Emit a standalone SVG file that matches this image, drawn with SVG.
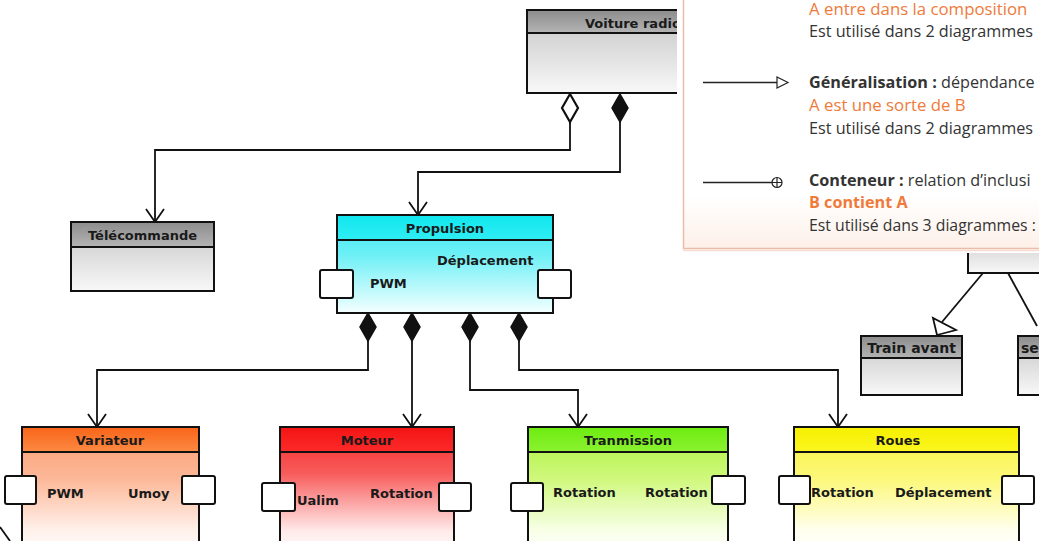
<svg xmlns="http://www.w3.org/2000/svg" xmlns:xlink="http://www.w3.org/1999/xlink" width="1039" height="541" viewBox="0 0 1039 541">
<style>
.box{stroke:#111;stroke-width:2}
.t{font-family:"DejaVu Sans",Verdana,sans-serif;font-size:13px;font-weight:bold;fill:#1a1a1a}
.port{fill:#fff;stroke:#111;stroke-width:2}
.conn{fill:none;stroke:#111;stroke-width:1.8}
.lg{font-family:"Open Sans","Liberation Sans",sans-serif;font-size:16.2px;fill:#333}
.or{fill:#ef7a3a}
.b{font-weight:bold}
</style>
<defs>
<linearGradient id="gH" x1="0" y1="0" x2="0" y2="1"><stop offset="0" stop-color="#8c8c8c"/><stop offset="1" stop-color="#b4b4b4"/></linearGradient>
<linearGradient id="gB" x1="0" y1="0" x2="0" y2="1"><stop offset="0" stop-color="#c4c4c4"/><stop offset="1" stop-color="#f8f8f8"/></linearGradient>
<linearGradient id="cH" x1="0" y1="0" x2="0" y2="1"><stop offset="0" stop-color="#10e6ee"/><stop offset="1" stop-color="#30eef4"/></linearGradient>
<linearGradient id="cB" x1="0" y1="0" x2="0" y2="1"><stop offset="0" stop-color="#3ae8f2"/><stop offset="0.4" stop-color="#6cf0f6"/><stop offset="1" stop-color="#f4ffff"/></linearGradient>
<linearGradient id="oH" x1="0" y1="0" x2="0" y2="1"><stop offset="0" stop-color="#f86418"/><stop offset="1" stop-color="#fc8a44"/></linearGradient>
<linearGradient id="oB" x1="0" y1="0" x2="0" y2="1"><stop offset="0" stop-color="#fb9c70"/><stop offset="0.4" stop-color="#fcb898"/><stop offset="0.8" stop-color="#fff2ec"/><stop offset="1" stop-color="#ffffff"/></linearGradient>
<linearGradient id="rH" x1="0" y1="0" x2="0" y2="1"><stop offset="0" stop-color="#f41414"/><stop offset="1" stop-color="#fc2a2a"/></linearGradient>
<linearGradient id="rB" x1="0" y1="0" x2="0" y2="1"><stop offset="0" stop-color="#f52828"/><stop offset="0.35" stop-color="#f85a5a"/><stop offset="0.8" stop-color="#ffeaea"/><stop offset="1" stop-color="#ffffff"/></linearGradient>
<linearGradient id="vH" x1="0" y1="0" x2="0" y2="1"><stop offset="0" stop-color="#6cec10"/><stop offset="1" stop-color="#8cf230"/></linearGradient>
<linearGradient id="vB" x1="0" y1="0" x2="0" y2="1"><stop offset="0" stop-color="#a8f23c"/><stop offset="0.4" stop-color="#d0f87c"/><stop offset="0.8" stop-color="#f8ffe8"/><stop offset="1" stop-color="#ffffff"/></linearGradient>
<linearGradient id="yH" x1="0" y1="0" x2="0" y2="1"><stop offset="0" stop-color="#f6f000"/><stop offset="1" stop-color="#fbf620"/></linearGradient>
<linearGradient id="yB" x1="0" y1="0" x2="0" y2="1"><stop offset="0" stop-color="#faf23c"/><stop offset="0.4" stop-color="#fcf87a"/><stop offset="0.8" stop-color="#fffff0"/><stop offset="1" stop-color="#ffffff"/></linearGradient>
<linearGradient id="lgB" x1="0" y1="0" x2="0" y2="1"><stop offset="0.8" stop-color="#ffffff"/><stop offset="1" stop-color="#fdf0e8"/></linearGradient>
<path id="vArr" d="M-9,-13 L0,0 L9,-13" fill="none" stroke="#111" stroke-width="1.8"/>
<polygon id="dF" points="0,0 8,14 0,28 -8,14" fill="#111" stroke="#111" stroke-width="1.5"/>
<polygon id="dO" points="0,0 8,14 0,28 -8,14" fill="#fff" stroke="#111" stroke-width="2.2"/>
<clipPath id="vclip"><rect x="0" y="0" width="678" height="541"/></clipPath>
</defs>
<rect width="1039" height="541" fill="#fff"/>

<g id="connectors">
<path class="conn" d="M570,122 V150 H155 V222"/>
<path class="conn" d="M620,122 V172 H418 V215"/>
<path class="conn" d="M368,340 V370 H97 V427"/>
<path class="conn" d="M412,340 V427"/>
<path class="conn" d="M470,340 V390 H578 V427"/>
<path class="conn" d="M519,340 V370 H838 V427"/>
<path class="conn" d="M983,273 L942,322"/>
<path class="conn" d="M1008,273 L1037,326"/>
<polygon points="933,318 937,335 956,330" fill="#fff" stroke="#111" stroke-width="1.8"/>
<path class="conn" d="M0,527 L10,541"/>
<use xlink:href="#dO" x="570" y="94"/>
<use xlink:href="#dF" x="620" y="94"/>
<use xlink:href="#dF" x="368" y="313"/>
<use xlink:href="#dF" x="412" y="313"/>
<use xlink:href="#dF" x="470" y="313"/>
<use xlink:href="#dF" x="519" y="313"/>
<use xlink:href="#vArr" x="155" y="222"/>
<use xlink:href="#vArr" x="418" y="215"/>
<use xlink:href="#vArr" x="97" y="427"/>
<use xlink:href="#vArr" x="412" y="427"/>
<use xlink:href="#vArr" x="578" y="427"/>
<use xlink:href="#vArr" x="838" y="427"/>
</g>

<g id="voiture" clip-path="url(#vclip)">
<rect class="box" x="527" y="10" width="200" height="83" fill="url(#gB)"/>
<rect class="box" x="527" y="10" width="200" height="23" fill="url(#gH)"/>
<text class="t" x="585" y="28">Voiture radio</text>
</g>

<g id="telecommande">
<rect class="box" x="71" y="222" width="143" height="69" fill="url(#gB)"/>
<rect class="box" x="71" y="222" width="143" height="25" fill="url(#gH)"/>
<text class="t" x="142.5" y="240" text-anchor="middle">Télécommande</text>
</g>

<g id="propulsion">
<rect class="box" x="337" y="215" width="216" height="98" fill="url(#cB)"/>
<rect class="box" x="337" y="215" width="216" height="25" fill="url(#cH)"/>
<text class="t" x="445" y="233" text-anchor="middle">Propulsion</text>
<text class="t" x="437" y="265">Déplacement</text>
<text class="t" x="370" y="288">PWM</text>
<rect class="port" x="320" y="270" width="33" height="28" rx="2"/>
<rect class="port" x="538" y="270" width="33" height="28" rx="2"/>
</g>

<g id="train-avant">
<rect class="box" x="861" y="336" width="101" height="59" fill="url(#gB)"/>
<rect class="box" x="861" y="336" width="101" height="22" fill="url(#gH)"/>
<text class="t" x="911.5" y="353" text-anchor="middle" style="font-size:14px">Train avant</text>
</g>

<g id="se-box">
<rect class="box" x="1018" y="336" width="40" height="59" fill="url(#gB)"/>
<rect class="box" x="1018" y="336" width="40" height="22" fill="url(#gH)"/>
<text class="t" x="1021" y="353" style="font-size:14px">se</text>
</g>

<g id="parent-box">
<rect class="box" x="968" y="230" width="90" height="43" fill="url(#gB)"/>
</g>

<g id="variateur">
<rect class="box" x="22" y="427" width="177" height="130" fill="url(#oB)"/>
<rect class="box" x="22" y="427" width="177" height="25" fill="url(#oH)"/>
<text class="t" x="110" y="445" text-anchor="middle">Variateur</text>
<text class="t" x="47" y="498">PWM</text>
<text class="t" x="128" y="498">Umoy</text>
<rect class="port" x="5" y="476" width="31" height="28" rx="2"/>
<rect class="port" x="182" y="476" width="33" height="28" rx="2"/>
</g>

<g id="moteur">
<rect class="box" x="280" y="427" width="174" height="130" fill="url(#rB)"/>
<rect class="box" x="280" y="427" width="174" height="25" fill="url(#rH)"/>
<text class="t" x="367" y="445" text-anchor="middle">Moteur</text>
<text class="t" x="297" y="505">Ualim</text>
<text class="t" x="370" y="498">Rotation</text>
<rect class="port" x="262" y="483" width="33" height="28" rx="2"/>
<rect class="port" x="439" y="483" width="32" height="28" rx="2"/>
</g>

<g id="tranmission">
<rect class="box" x="528" y="427" width="200" height="130" fill="url(#vB)"/>
<rect class="box" x="528" y="427" width="200" height="25" fill="url(#vH)"/>
<text class="t" x="628" y="445" text-anchor="middle">Tranmission</text>
<text class="t" x="553" y="497">Rotation</text>
<text class="t" x="645" y="497">Rotation</text>
<rect class="port" x="511" y="483" width="32" height="28" rx="2"/>
<rect class="port" x="712" y="476" width="33" height="28" rx="2"/>
</g>

<g id="roues">
<rect class="box" x="794" y="427" width="225" height="130" fill="url(#yB)"/>
<rect class="box" x="794" y="427" width="225" height="25" fill="url(#yH)"/>
<text class="t" x="898" y="445" text-anchor="middle">Roues</text>
<text class="t" x="811" y="497">Rotation</text>
<text class="t" x="895" y="497">Déplacement</text>
<rect class="port" x="779" y="476" width="31" height="28" rx="2"/>
<rect class="port" x="1002" y="476" width="32" height="28" rx="2"/>
</g>

<g id="legend">
<rect x="677" y="-10" width="380" height="263" fill="#fff"/>
<rect x="683.5" y="-10" width="380" height="258.5" fill="url(#lgB)" stroke="#ebbcaa" stroke-width="1.5"/>
<line x1="683" y1="250.5" x2="1039" y2="250.5" stroke="#f6dccf" stroke-width="1.5"/>
<text class="lg or" x="809" y="15" style="font-size:16.8px">A entre dans la composition</text>
<text class="lg" x="809" y="37">Est utilisé dans 2 diagrammes</text>
<line x1="703" y1="82.5" x2="777" y2="82.5" stroke="#222" stroke-width="1.3"/>
<polygon points="777,77 788,82.5 777,88" fill="#fff" stroke="#222" stroke-width="1.2"/>
<text class="lg" x="809" y="88"><tspan class="b">Généralisation :</tspan> dépendance</text>
<text class="lg or" x="809" y="111" style="font-size:16.8px">A est une sorte de B</text>
<text class="lg" x="809" y="134">Est utilisé dans 2 diagrammes</text>
<line x1="703" y1="182.5" x2="772" y2="182.5" stroke="#222" stroke-width="1.3"/>
<circle cx="777" cy="182.5" r="5" fill="#fff" stroke="#222" stroke-width="1.2"/>
<path d="M772,182.5 H782 M777,177.5 V187.5" stroke="#222" stroke-width="1.2"/>
<text class="lg" x="809" y="186"><tspan class="b">Conteneur :</tspan> relation d’inclusi</text>
<text class="lg or b" x="809" y="208">B contient A</text>
<text class="lg" x="809" y="231" style="font-size:15.8px">Est utilisé dans 3 diagrammes :</text>
</g>
</svg>
